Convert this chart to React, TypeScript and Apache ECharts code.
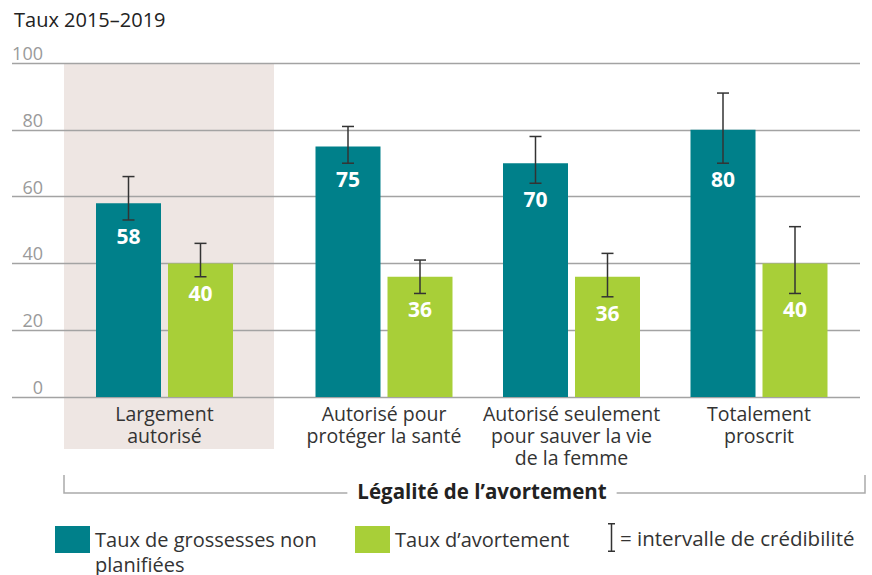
import React, { useEffect, useRef } from "react";
import * as echarts from "echarts";

const categories = [
  "Largement\nautorisé",
  "Autorisé pour\nprotéger la santé",
  "Autorisé seulement\npour sauver la vie\nde la femme",
  "Totalement\nproscrit",
];
const unplanned = [58, 75, 70, 80];
const abortion = [40, 36, 36, 40];
const unplannedLow = [53, 70, 64, 70];
const unplannedHigh = [66, 81, 78, 91];
const abortionLow = [36, 31, 30, 31];
const abortionHigh = [46, 41, 43, 51];
const yMin = 0;
const yMax = 100;
const yInterval = 20;

const S1 = "Taux de grossesses non planifiées";
const S2 = "Taux d’avortement";
const S3 = "= intervalle de crédibilité";
const TEAL = "#00808a";
const GREEN = "#a8cf38";
const FONT = "Open Sans";
const BAR_W = 65;
const GAP_PX = 7;

export default function App() {
  const ref = useRef<HTMLDivElement>(null);
  useEffect(() => {
    const chart = echarts.init(ref.current!, null, { renderer: "svg" });
    const half = (BAR_W + GAP_PX) / 2;
    const renderErr = (params: any, api: any) => {
      const x = api.value(0);
      const side = api.value(3);
      const lo = api.coord([x, api.value(1)]);
      const hi = api.coord([x, api.value(2)]);
      const cx = lo[0] + side * half;
      const st = { stroke: "#333", lineWidth: 1.5 };
      return {
        type: "group",
        children: [
          { type: "line", shape: { x1: cx, y1: hi[1], x2: cx, y2: lo[1] }, style: st },
          { type: "line", shape: { x1: cx - 6, y1: hi[1], x2: cx + 6, y2: hi[1] }, style: st },
          { type: "line", shape: { x1: cx - 6, y1: lo[1], x2: cx + 6, y2: lo[1] }, style: st },
          {
            type: "text",
            x: cx,
            y: lo[1] + 16,
            style: {
              text: String(api.value(4)),
              align: "center",
              verticalAlign: "middle",
              fill: "#fff",
              fontFamily: FONT,
              fontWeight: "bold",
              fontSize: 21,
            },
          },
        ],
      };
    };
    const errData = (from: number, to: number) => {
      const out: number[][] = [];
      for (let i = from; i < to; i++) {
        out.push([i - from, unplannedLow[i], unplannedHigh[i], -1, unplanned[i]]);
        out.push([i - from, abortionLow[i], abortionHigh[i], 1, abortion[i]]);
      }
      return out;
    };
    const hiddenY = (gridIndex: number) => ({
      type: "value",
      gridIndex,
      min: yMin,
      max: yMax,
      interval: yInterval,
      show: false,
    });
    const catAxis = (gridIndex: number, data: string[]) => ({
      type: "category",
      gridIndex,
      data,
      axisLine: { show: false },
      axisTick: { show: false },
      axisLabel: {
        margin: 5,
        color: "#333",
        fontFamily: FONT,
        fontSize: 19.5,
        lineHeight: 22,
        interval: 0,
      },
    });
    const barsFor = (name: string, vals: number[], color: string, axis: number) => ({
      type: "bar",
      name,
      xAxisIndex: axis,
      yAxisIndex: axis,
      data: vals,
      barWidth: BAR_W,
      barGap: (GAP_PX / BAR_W) * 100 + "%",
      itemStyle: { color },
    });
    const legendText = { fontFamily: FONT, fontSize: 20, lineHeight: 25, color: "#333" };

    chart.setOption({
      animation: false,
      title: {
        text: "Taux 2015–2019",
        left: 9,
        top: 4,
        textStyle: { fontFamily: FONT, fontSize: 20, fontWeight: "normal", color: "#222" },
      },
      grid: [
        { left: 64, width: 201, top: 63, bottom: 178 },
        { left: 290.25, width: 562.5, top: 63, bottom: 178 },
        { left: 12, right: 12, top: 63, bottom: 178 },
      ],
      xAxis: [
        catAxis(0, categories.slice(0, 1)),
        catAxis(1, categories.slice(1)),
        { type: "value", gridIndex: 2, show: false, min: 0, max: 1 },
      ],
      yAxis: [
        hiddenY(0),
        hiddenY(1),
        {
          type: "value",
          gridIndex: 2,
          min: yMin,
          max: yMax,
          interval: yInterval,
          axisLine: { show: false },
          axisTick: { show: false },
          splitLine: { lineStyle: { color: "#a3a3a3", width: 1.3 } },
          axisLabel: {
            inside: true,
            align: "right",
            verticalAlign: "bottom",
            margin: 31,
            padding: [0, 0, 1, 0],
            color: "#9a9a9a",
            fontFamily: FONT,
            fontSize: 18,
          },
          z: 1,
        },
      ],
      legend: [
        {
          data: [
            { name: S1, textStyle: { ...legendText, width: 228 } },
            { name: S2, textStyle: { ...legendText, width: 180 } },
          ],
          formatter: (n: string) => (n === S1 ? " \nTaux de grossesses non\nplanifiées" : n),
          left: 55,
          top: 502,
          padding: 0,
          icon: "rect",
          itemWidth: 35,
          itemHeight: 27,
          itemGap: 32,
          selectedMode: false,
          textStyle: legendText,
        },
        {
          data: [
            {
              name: S3,
              icon: "path://M0,0H7V1.5H4.25V27.5H7V29H0V27.5H2.75V1.5H0Z",
              itemStyle: { color: "#333" },
            },
          ],
          left: 608,
          top: 523,
          padding: 0,
          itemWidth: 7,
          itemHeight: 29,
          selectedMode: false,
          textStyle: { fontFamily: FONT, fontSize: 20.5, color: "#333" },
        },
      ],
      graphic: [
        {
          type: "rect",
          z: -10,
          shape: { x: 64, y: 63, width: 210, height: 386 },
          style: { fill: "#eee6e3" },
        },
        {
          type: "polyline",
          shape: { points: [[64, 475], [64, 493], [865, 493], [865, 475]] },
          style: { stroke: "#aaa", lineWidth: 1.5, fill: "none" },
        },
        {
          type: "text",
          x: 482,
          y: 491,
          style: {
            text: "Légalité de l’avortement",
            align: "center",
            verticalAlign: "middle",
            fontFamily: FONT,
            fontSize: 20.5,
            fontWeight: "bold",
            fill: "#222",
            backgroundColor: "#fff",
            padding: [0, 10],
          },
        },
      ],
      series: [
        barsFor(S1, unplanned.slice(0, 1), TEAL, 0),
        barsFor(S2, abortion.slice(0, 1), GREEN, 0),
        barsFor(S1, unplanned.slice(1), TEAL, 1),
        barsFor(S2, abortion.slice(1), GREEN, 1),
        {
          type: "custom",
          name: S3,
          xAxisIndex: 0,
          yAxisIndex: 0,
          data: errData(0, 1),
          encode: { x: 0, y: [1, 2] },
          renderItem: renderErr,
          itemStyle: { color: "#333" },
          z: 5,
        },
        {
          type: "custom",
          name: S3,
          xAxisIndex: 1,
          yAxisIndex: 1,
          data: errData(1, 4),
          encode: { x: 0, y: [1, 2] },
          renderItem: renderErr,
          itemStyle: { color: "#333" },
          z: 5,
        },
      ],
    });
    return () => chart.dispose();
  }, []);
  return (
    <div
      ref={ref}
      style={{ position: "absolute", left: 0, top: 0, width: 872, height: 575 }}
    />
  );
}
